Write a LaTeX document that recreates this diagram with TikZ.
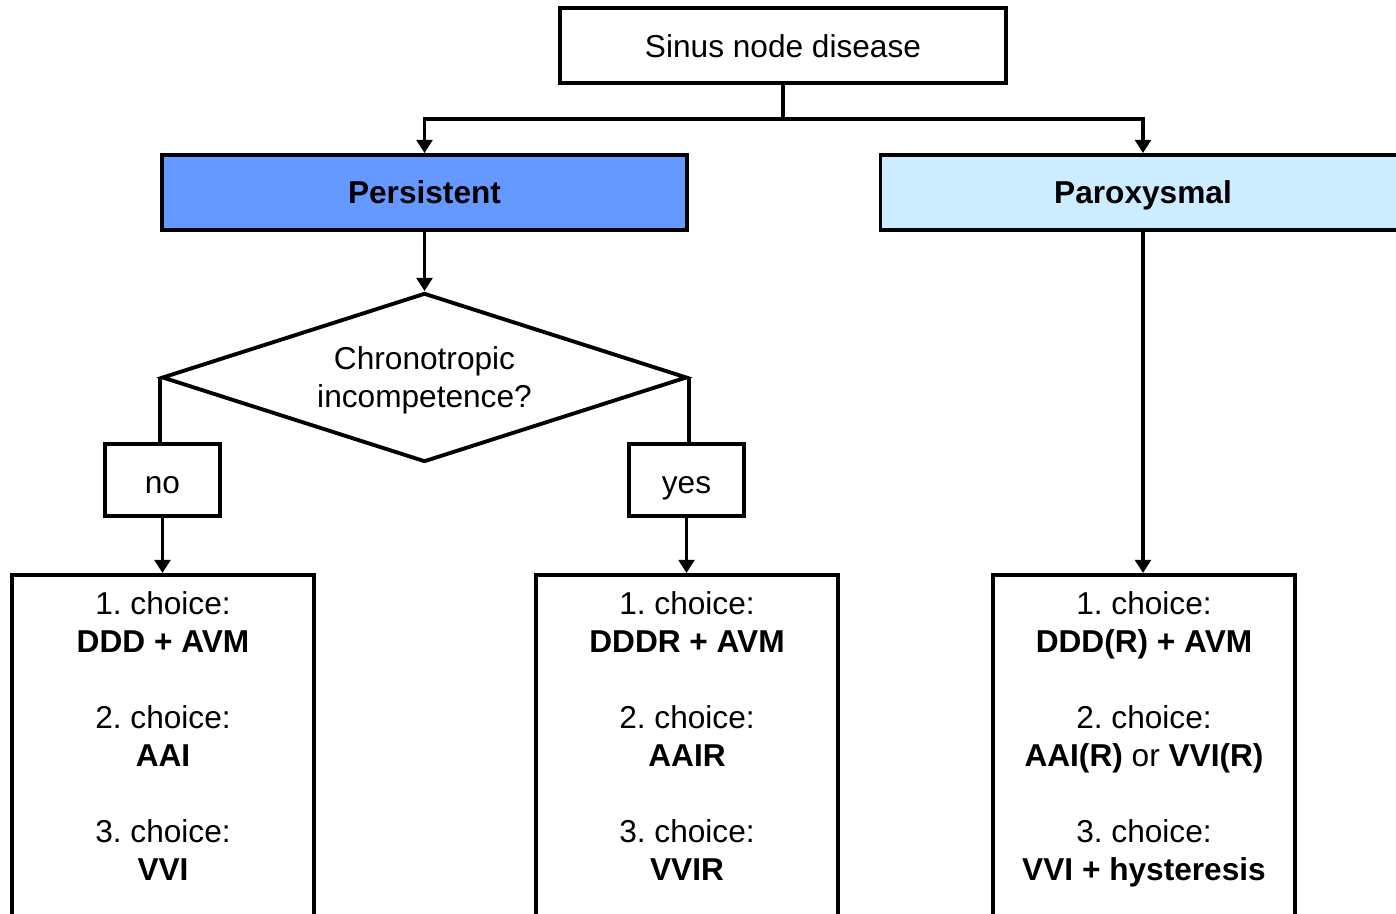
\documentclass[tikz,border=0pt]{standalone}
\usepackage{fontspec}
\setmainfont{Liberation Sans}
\usetikzlibrary{arrows.meta,shapes.geometric,calc}
\definecolor{snPersist}{HTML}{6699FF}
\definecolor{snParox}{HTML}{CCECFF}
\definecolor{snInk}{HTML}{000000}
\frenchspacing
\tikzset{
  baseBox/.style={rectangle, draw=snInk, fill=white, line width=2.2pt, align=center,
    inner sep=0pt, font=\fontsize{18}{21.6}\selectfont, text=snInk},
  titleBox/.style={baseBox, minimum width=8.92cm, minimum height=1.50cm,
    text height=0.52cm, text depth=0.04cm},
  typeBox/.style={baseBox, minimum width=10.50cm, minimum height=1.50cm,
    text height=0.50cm, text depth=0.04cm, font=\fontsize{18}{21.6}\selectfont\bfseries},
  decisionBox/.style={baseBox, diamond, aspect=3.1, minimum width=10.50cm, minimum height=3.38cm,
    text depth=0pt},
  answerBox/.style={baseBox, minimum width=2.30cm, minimum height=1.44cm,
    text height=0.56cm, text depth=0.04cm},
  choiceBox/.style={baseBox, anchor=north, minimum width=6.04cm, inner ysep=0.34cm, text depth=7cm},
  flow/.style={-{Triangle[length=7.5pt, width=9pt]}, line width=1.8pt, color=snInk},
  link/.style={line width=1.8pt, color=snInk},
}

\begin{document}
\begin{tikzpicture}[x=1cm,y=1cm]
  \clip (0,0) rectangle (27.92,18.26);

  \node[titleBox] (disease) at (15.66,17.35) {Sinus node disease};
  \coordinate (split) at (15.66,15.88);

  \node[typeBox, fill=snPersist] (persistent) at (8.49,14.41) {Persistent};
  \node[typeBox, fill=snParox] (paroxysmal) at (22.86,14.41) {Paroxysmal};

  \draw[link] (disease.south) -- (split);
  \draw[flow] (split) -| (persistent.north);
  \draw[flow] (split) -| (paroxysmal.north);

  \node[decisionBox] (chrono) at (8.49,10.71) {Chronotropic\\incompetence?};
  \draw[flow] (persistent.south) -- (chrono.north);

  \node[answerBox] (answerNo) at (3.25,8.66) {no};
  \node[answerBox] (answerYes) at (13.73,8.66) {yes};
  \draw[link] (chrono.west) -- (chrono.west |- answerNo.north);
  \draw[link] (chrono.east) -- (chrono.east |- answerYes.north);

  \node[choiceBox] (choiceNo) at (3.26,6.80)
    {1. choice:\\\textbf{DDD + AVM}\\[0.76cm]2. choice:\\\textbf{AAI}\\[0.76cm]3. choice:\\\textbf{VVI}};
  \node[choiceBox] (choiceYes) at (13.74,6.80)
    {1. choice:\\\textbf{DDDR + AVM}\\[0.76cm]2. choice:\\\textbf{AAIR}\\[0.76cm]3. choice:\\\textbf{VVIR}};
  \node[choiceBox] (choiceParox) at (22.88,6.80)
    {1. choice:\\\textbf{DDD(R) + AVM}\\[0.76cm]2. choice:\\\textbf{AAI(R)} or \textbf{VVI(R)}\\[0.76cm]3. choice:\\\textbf{VVI + hysteresis}};

  \draw[flow] (answerNo.south) -- (answerNo.south |- choiceNo.north);
  \draw[flow] (answerYes.south) -- (answerYes.south |- choiceYes.north);
  \draw[flow] (paroxysmal.south) -- (paroxysmal.south |- choiceParox.north);
\end{tikzpicture}
\end{document}
